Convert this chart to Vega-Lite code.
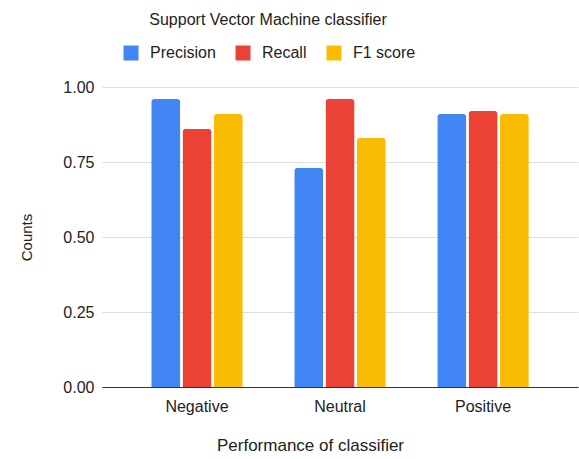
{
  "$schema": "https://vega.github.io/schema/vega-lite/v6.json",
  "width": 476,
  "height": 300,
  "autosize": {"type": "none"},
  "padding": {"left": 102, "top": 87, "right": 1, "bottom": 72},
  "background": "white",
  "config": {
    "view": {"stroke": null},
    "font": "Liberation Sans"
  },
  "title": {
    "text": "Support Vector Machine classifier",
    "fontSize": 16,
    "fontWeight": "normal",
    "color": "#222222",
    "anchor": "middle",
    "frame": "group",
    "dx": -72,
    "dy": -13
  },
  "data": {
    "values": [
      {"category": "Negative", "metric": "Precision", "value": 0.96},
      {"category": "Negative", "metric": "Recall", "value": 0.86},
      {"category": "Negative", "metric": "F1 score", "value": 0.91},
      {"category": "Neutral", "metric": "Precision", "value": 0.73},
      {"category": "Neutral", "metric": "Recall", "value": 0.96},
      {"category": "Neutral", "metric": "F1 score", "value": 0.83},
      {"category": "Positive", "metric": "Precision", "value": 0.91},
      {"category": "Positive", "metric": "Recall", "value": 0.92},
      {"category": "Positive", "metric": "F1 score", "value": 0.91}
    ]
  },
  "mark": {"type": "bar", "cornerRadiusTopLeft": 3, "cornerRadiusTopRight": 3},
  "encoding": {
    "x": {
      "field": "category",
      "type": "nominal",
      "sort": ["Negative", "Neutral", "Positive"],
      "scale": {"paddingInner": 0.36, "paddingOuter": 0.344},
      "title": "Performance of  classifier",
      "axis": {
        "labelAngle": 0,
        "labelFontSize": 16,
        "labelColor": "#222222",
        "labelPadding": 11,
        "ticks": false,
        "domainColor": "#333333",
        "domainWidth": 1,
        "titleFontSize": 17,
        "titleFontWeight": "normal",
        "titleColor": "#222222",
        "titlePadding": 23,
        "titleX": 208,
        "grid": false
      }
    },
    "xOffset": {
      "field": "metric",
      "type": "nominal",
      "sort": ["Precision", "Recall", "F1 score"],
      "scale": {"paddingInner": 0.07}
    },
    "y": {
      "field": "value",
      "type": "quantitative",
      "scale": {"domain": [0, 1]},
      "title": "Counts",
      "axis": {
        "values": [0, 0.25, 0.5, 0.75, 1],
        "format": ".2f",
        "labelFontSize": 16,
        "labelColor": "#222222",
        "labelPadding": 8,
        "ticks": false,
        "domain": false,
        "gridColor": "#dddddd",
        "titleFontSize": 15,
        "titleFontWeight": "normal",
        "titleColor": "#222222",
        "titlePadding": 28
      }
    },
    "color": {
      "field": "metric",
      "type": "nominal",
      "sort": ["Precision", "Recall", "F1 score"],
      "scale": {"domain": ["Precision", "Recall", "F1 score"], "range": ["#4285F4", "#EA4335", "#FBBC04"]},
      "legend": {
        "title": null,
        "orient": "none",
        "direction": "horizontal",
        "legendX": 21,
        "legendY": -42,
        "symbolType": "square",
        "symbolSize": 225,
        "symbolStrokeWidth": 0,
        "labelFontSize": 16,
        "labelColor": "#222222",
        "labelOffset": 11,
        "columnPadding": 19
      }
    }
  }
}
